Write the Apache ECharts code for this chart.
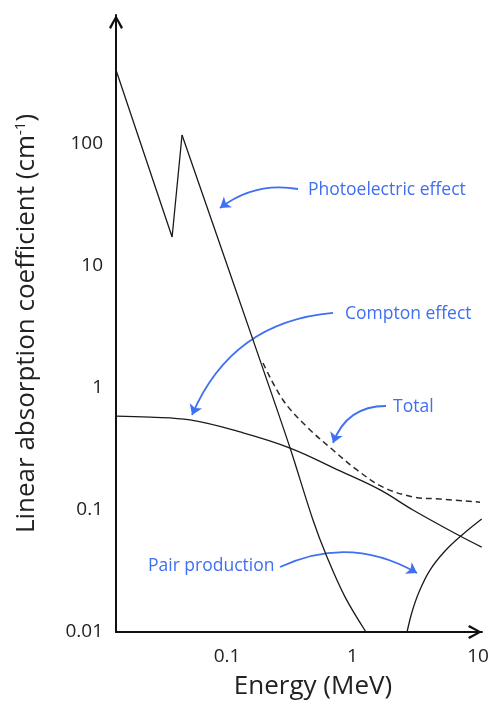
<!DOCTYPE html>
<html><head><meta charset="utf-8">
<script src="https://cdn.jsdelivr.net/npm/echarts@6/dist/echarts.min.js"></script>
<style>html,body{margin:0;padding:0;background:#fff}#c{width:491px;height:704px}</style>
</head><body><div id="c"></div>
<script>
// ---- data ----
const xTickLabels = ['0.1', '1', '10'];
const yTickLabels = ['0.01', '0.1', '1', '10', '100'];

// photoelectric: low-energy part with L/K edge (straight segments), then smooth high-energy tail
const photoEdgeE  = [0.01304, 0.0365, 0.0438];
const photoEdgeMu = [404, 17.3, 118.5];
const photoTailE  = [0.0438, 0.1866, 0.318, 0.484, 0.626, 0.871, 1.28];
const photoTailMu = [118.5, 1.60, 0.322, 0.0828, 0.0412, 0.0194, 0.01];

const comptonE  = [0.01304, 0.0243, 0.0507, 0.1269, 0.318, 0.795, 1.66, 3.03, 7.19, 10.7];
const comptonMu = [0.589, 0.578, 0.547, 0.436, 0.322, 0.209, 0.146, 0.100, 0.0612, 0.0497];

const totalE  = [0.1936, 0.279, 0.434, 0.699, 1.086, 1.75, 3.03, 4.98, 10.37];
const totalMu = [1.603, 0.797, 0.479, 0.310, 0.213, 0.154, 0.128, 0.123, 0.116];

const pairE  = [2.72, 2.979, 3.388, 4.145, 5.459, 7.457, 10.7];
const pairMu = [0.01, 0.0146, 0.0213, 0.0322, 0.0461, 0.0624, 0.0844];

const annotText = ['Photoelectric effect', 'Compton effect', 'Total', 'Pair production'];
// arrow start/end in data coordinates [energy, mu]
const arrowFrom = [[0.3679, 42.76], [0.6994, 4.120], [1.849, 0.712], [0.2645, 0.0341]];
const arrowTo   = [[0.0879, 29.89], [0.0526, 0.6008], [0.6994, 0.354], [3.266, 0.03046]];

// ---- styling / layout ----
const FONT = '"Open Sans", sans-serif';
const BLUE = '#3f6ff2';
const INK = '#1a1a1a';
const arrowCurve = [-0.22, -0.3, -0.35, 0.26];
const annotPos = [[308, 190], [345, 314], [393, 407], [148, 566]];
const chevron = 'path://M0,9 L5,0 L10,9 L8.6,10 L5,3 L1.4,10 Z';

function zip(a, b) { return a.map((v, i) => [v, b[i]]); }
function tickFmt(list) {
  return function (v) {
    const l = Math.log10(v), r = Math.round(l);
    if (Math.abs(l - r) > 1e-6) return '';
    const s = r >= 0 ? String(Math.pow(10, r)) : Math.pow(10, r).toFixed(-r);
    return list.indexOf(s) >= 0 ? s : '';
  };
}
const curveStyle = { color: INK, width: 1.3 };

const chart = echarts.init(document.getElementById('c'), null, { renderer: 'canvas' });
chart.setOption({
  animation: false,
  backgroundColor: '#fff',
  grid: { left: 116, right: 9, top: 15, bottom: 72, containLabel: false, outerBoundsMode: 'none' },
  xAxis: {
    type: 'log', logBase: 10, min: 0.01304, max: 10.76,
    axisLine: { lineStyle: { color: '#111', width: 2 }, symbol: ['none', chevron], symbolSize: [14, 14], symbolOffset: [0, -7] },
    axisTick: { show: false }, splitLine: { show: false }, minorTick: { show: false },
    axisLabel: { formatter: tickFmt(xTickLabels), fontSize: 19, color: '#222', margin: 15, fontFamily: FONT, showMinLabel: true, showMaxLabel: true },
    name: 'Energy (MeV)', nameLocation: 'middle', nameGap: 42,
    nameTextStyle: { fontSize: 26, color: '#222', fontFamily: FONT, padding: [0, 0, 0, 28] }
  },
  yAxis: {
    type: 'log', logBase: 10, min: 0.01, max: 1141,
    axisLine: { lineStyle: { color: '#111', width: 2 }, symbol: ['none', chevron], symbolSize: [14, 14], symbolOffset: [0, -7] },
    axisTick: { show: false }, splitLine: { show: false }, minorTick: { show: false },
    axisLabel: { formatter: tickFmt(yTickLabels), fontSize: 19, color: '#222', margin: 13, fontFamily: FONT, showMinLabel: true },
    name: 'Linear absorption coefficient (cm{sup|-1})', nameLocation: 'middle', nameRotate: 90, nameGap: 76,
    nameTextStyle: { fontSize: 26, color: '#222', fontFamily: FONT,
      rich: { sup: { fontSize: 15, color: '#222', fontFamily: FONT, verticalAlign: 'top', padding: [0, 0, 12, 0] } } }
  },
  series: [
    { name: 'Photoelectric edge', type: 'line', data: zip(photoEdgeE, photoEdgeMu), symbol: 'none', lineStyle: curveStyle, silent: true },
    { name: 'Photoelectric', type: 'line', data: zip(photoTailE, photoTailMu), symbol: 'none', smooth: 0.35, lineStyle: curveStyle, silent: true },
    { name: 'Compton', type: 'line', data: zip(comptonE, comptonMu), symbol: 'none', smooth: 0.4, lineStyle: curveStyle, silent: true },
    { name: 'Total', type: 'line', data: zip(totalE, totalMu), symbol: 'none', smooth: 0.35, lineStyle: { color: '#2a2a2a', width: 1.5, type: [6, 4] }, silent: true },
    { name: 'Pair', type: 'line', data: zip(pairE, pairMu), symbol: 'none', smooth: 0.4, lineStyle: curveStyle, silent: true },
    {
      type: 'lines', coordinateSystem: 'cartesian2d', silent: true,
      symbol: ['none', 'arrow'], symbolSize: 10,
      lineStyle: { color: BLUE, width: 1.8, opacity: 1 },
      data: arrowFrom.map((f, i) => ({ coords: [f, arrowTo[i]], lineStyle: { curveness: arrowCurve[i] } }))
    }
  ],
  graphic: annotText.map((t, i) => ({
    type: 'text', x: annotPos[i][0], y: annotPos[i][1], silent: true,
    style: { text: t, fill: BLUE, font: '17.5px ' + FONT, verticalAlign: 'middle', align: 'left' }
  }))
});
</script></body></html>
